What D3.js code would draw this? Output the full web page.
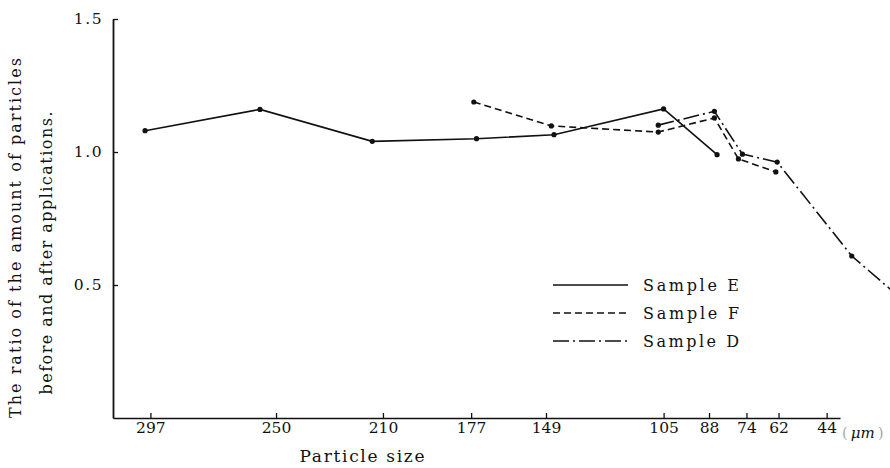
<!DOCTYPE html>
<html>
<head>
<meta charset="utf-8">
<script src="https://cdn.jsdelivr.net/npm/d3@7"></script>
<style>
  html, body { margin: 0; padding: 0; background: #fff; }
  svg { display: block; }
  text { font-family: "DejaVu Serif", "Liberation Serif", serif; fill: #111; }
</style>
</head>
<body>
<svg id="chart" width="890" height="468"></svg>
<script>
// Particle sizes shown on the x axis (µm) and ratio ticks on the y axis
const sizeTicks = [297, 250, 210, 177, 149, 105, 88, 74, 62, 44];
const ratioTicks = [0.5, 1.0, 1.5];

// Sample E (solid)
const sampleESize  = [299, 256, 214, 175, 146, 105, 85];
const sampleERatio = [1.08, 1.16, 1.04, 1.05, 1.065, 1.162, 0.99];

// Sample F (dashed)
const sampleFSize  = [176, 147, 107, 86, 77, 63];
const sampleFRatio = [1.188, 1.098, 1.075, 1.128, 0.974, 0.925];

// Sample D (dash-dot), last point runs off the right edge
const sampleDSize  = [107, 86, 75.5, 62.5, 34.6, 19];
const sampleDRatio = [1.101, 1.153, 0.992, 0.962, 0.609, 0.474];

const seriesNames = ["Sample E", "Sample F", "Sample D"];

const svg = d3.select("#chart");
const W = 890, H = 468;

const x = d3.scaleLinear().domain([311, 39]).range([113, 840]);
const y = d3.scaleLinear().domain([0, 1.5]).range([418, 19]);

// axes
const xAxis = d3.axisBottom(x)
  .tickValues(sizeTicks)
  .tickFormat(d3.format("d"))
  .tickSizeInner(-5)
  .tickSizeOuter(0)
  .tickPadding(4);

const gx = svg.append("g")
  .attr("transform", `translate(0,${y(0)})`)
  .call(xAxis);
gx.select(".domain").attr("stroke", "#111").attr("stroke-width", 1.6);
gx.selectAll(".tick line").attr("stroke", "#111").attr("stroke-width", 1.3);
gx.selectAll(".tick text")
  .attr("font-size", 15.5)
  .attr("font-family", "DejaVu Serif, serif")
  .attr("fill", "#111");

const yAxis = d3.axisLeft(y)
  .tickValues(ratioTicks)
  .tickFormat(d3.format(".1f"))
  .tickSizeInner(-5)
  .tickSizeOuter(0)
  .tickPadding(10);

const gy = svg.append("g")
  .attr("transform", `translate(${x(311)},0)`)
  .call(yAxis);
gy.select(".domain").attr("stroke", "#111").attr("stroke-width", 1.8);
gy.selectAll(".tick line").attr("stroke", "#111").attr("stroke-width", 1.3);
gy.selectAll(".tick text")
  .attr("font-size", 15.5)
  .attr("font-family", "DejaVu Serif, serif")
  .attr("fill", "#111")
  .attr("letter-spacing", 1.5);

// unit label after the last tick
const unit = svg.append("text")
  .attr("x", 842)
  .attr("y", y(0) + 20)
  .attr("font-size", 15);
unit.append("tspan").attr("fill", "#aaa").text("(");
unit.append("tspan").attr("dx", 3).attr("font-style", "italic").text("μm");
unit.append("tspan").attr("dx", 3).attr("fill", "#aaa").text(")");

// axis titles
svg.append("text")
  .attr("x", 362)
  .attr("y", 462)
  .attr("text-anchor", "middle")
  .attr("font-size", 17)
  .attr("textLength", 125)
  .attr("lengthAdjust", "spacing")
  .text("Particle size");

svg.append("text")
  .attr("transform", "translate(21,238) rotate(-90)")
  .attr("text-anchor", "middle")
  .attr("font-size", 16)
  .attr("textLength", 360)
  .attr("lengthAdjust", "spacing")
  .text("The ratio of the amount of particles");

svg.append("text")
  .attr("transform", "translate(52,253) rotate(-90)")
  .attr("text-anchor", "middle")
  .attr("font-size", 16)
  .attr("textLength", 283)
  .attr("lengthAdjust", "spacing")
  .text("before and after applications.");

// series
const series = [
  { name: seriesNames[0], sizes: sampleESize, ratios: sampleERatio, dash: null },
  { name: seriesNames[1], sizes: sampleFSize, ratios: sampleFRatio, dash: "7,4" },
  { name: seriesNames[2], sizes: sampleDSize, ratios: sampleDRatio, dash: "16,4,2,4" }
];

const line = d3.line()
  .x(d => x(d[0]))
  .y(d => y(d[1]));

const plot = svg.append("g");

series.forEach(s => {
  const pts = s.sizes.map((v, i) => [v, s.ratios[i]]);
  plot.append("path")
    .datum(pts)
    .attr("fill", "none")
    .attr("stroke", "#111")
    .attr("stroke-width", 1.6)
    .attr("stroke-dasharray", s.dash)
    .attr("d", line);
  plot.selectAll(null)
    .data(pts)
    .enter()
    .append("circle")
    .attr("cx", d => x(d[0]))
    .attr("cy", d => y(d[1]))
    .attr("r", 2.6)
    .attr("fill", "#111");
});

// legend
const legend = svg.append("g").attr("transform", "translate(553,285)");
series.forEach((s, i) => {
  const row = legend.append("g").attr("transform", `translate(0,${i * 28})`);
  row.append("line")
    .attr("x1", 0).attr("x2", 75)
    .attr("y1", 0).attr("y2", 0)
    .attr("stroke", "#111")
    .attr("stroke-width", 1.6)
    .attr("stroke-dasharray", s.dash);
  row.append("text")
    .attr("x", 90)
    .attr("y", 6)
    .attr("font-size", 16)
    .attr("textLength", 96)
    .attr("lengthAdjust", "spacing")
    .text(s.name);
});
</script>
</body>
</html>
